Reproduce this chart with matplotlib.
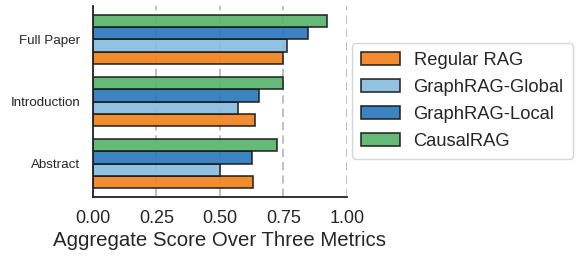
import matplotlib
matplotlib.use("Agg")
import matplotlib.pyplot as plt
import numpy as np

plt.rcParams['font.family'] = ['Liberation Sans', 'DejaVu Sans']
plt.rcParams['text.color'] = '#262626'
plt.rcParams['axes.labelcolor'] = '#262626'
plt.rcParams['xtick.color'] = '#262626'
plt.rcParams['ytick.color'] = '#262626'

categories = ["Abstract", "Introduction", "Full Paper"]
methods = ["Regular RAG", "GraphRAG-Global", "GraphRAG-Local", "CausalRAG"]
regular_rag = [0.632, 0.638, 0.750]
graphrag_global = [0.500, 0.572, 0.763]
graphrag_local = [0.625, 0.655, 0.845]
causalrag = [0.726, 0.750, 0.921]
xticks = [0.00, 0.25, 0.50, 0.75, 1.00]

series = [regular_rag, graphrag_global, graphrag_local, causalrag]
colors = ["#F08118", "#86BCDF", "#2777BB", "#53B367"]

fig = plt.figure(figsize=(5.81, 2.59), dpi=100)
ax = fig.add_axes([0.160, 0.239, 0.437, 0.738])

y = np.arange(len(categories))
h = 0.2
for i, (vals, c, m) in enumerate(zip(series, colors, methods)):
    ax.barh(y + (i - 1.5) * h, vals, height=h, color=c, alpha=0.9,
            edgecolor="#1a1a1a", linewidth=1.2, label=m, zorder=2)

ax.set_xlim(0, 1.0)
ax.set_xticks(xticks)
ax.set_xticklabels([f"{t:.2f}" for t in xticks], fontsize=13)
ax.set_yticks(y)
ax.set_yticklabels(categories, fontsize=9.6)
ax.tick_params(axis='both', length=0)
ax.tick_params(axis='x', pad=9)
ax.tick_params(axis='y', pad=9)
ax.grid(axis='x', color='#b5b5b5', linestyle=(0, (5, 3)), linewidth=1.2, zorder=1)
ax.set_axisbelow(True)
for s in ['top', 'right']:
    ax.spines[s].set_visible(False)
for s in ['left', 'bottom']:
    ax.spines[s].set_color('#222222')
    ax.spines[s].set_linewidth(1.3)
ax.set_xlabel("Aggregate Score Over Three Metrics", fontsize=14.7, labelpad=3)

handles, labels = ax.get_legend_handles_labels()
leg = fig.legend(handles, labels, loc='upper left', bbox_to_anchor=(0.606, 0.834),
                 borderaxespad=0,
                 fontsize=13.2, frameon=True, fancybox=True, edgecolor='#cccccc',
                 borderpad=0.5, labelspacing=0.54, handlelength=2.1, handletextpad=0.75)

fig.savefig("out.png", dpi=100)
